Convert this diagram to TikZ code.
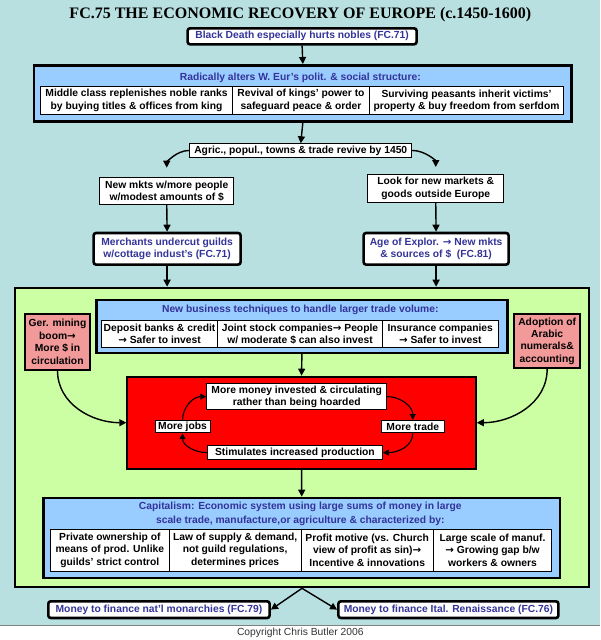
\documentclass[tikz,border=0pt]{standalone}
\usepackage{fontspec}
\setmainfont{Liberation Sans}
\newfontfamily\titlefont{Liberation Serif}
\newfontfamily\arrfont{DejaVu Sans}
\usetikzlibrary{arrows.meta}
\definecolor{bgc}{HTML}{B9E0E1}
\definecolor{grn}{HTML}{CCFFA3}
\definecolor{lblue}{HTML}{99CCFF}
\definecolor{pinkc}{HTML}{F29999}
\definecolor{txtblue}{HTML}{333399}
\definecolor{redc}{HTML}{FF0000}
\newcommand{\myarr}{{\arrfont\bfseries →}}
\begin{document}
\begin{tikzpicture}[x=1pt,y=-1pt,
  every node/.style={font=\bfseries\fontsize{10.3}{12.2}\selectfont, align=center, inner sep=0pt},
  box/.style={draw, line width=0.9pt, fill=white, anchor=north west},
  heavy/.style={draw, line width=2.6pt, fill=white, rounded corners=2.5pt, anchor=north west, text=txtblue},
  panel/.style={draw, line width=2.6pt, anchor=north west},
  conn/.style={line width=1.4pt, -{Triangle[length=7pt,width=7pt]}},
  cyc/.style={line width=1.1pt, -{Triangle[length=6pt,width=6pt]}},
  heading/.style={text=txtblue},
]
\fill[bgc] (0,0) rectangle (600,625);
\draw[gray, line width=0.6pt] (0,625) -- (600,625);
\useasboundingbox (0,0) rectangle (600,640);

\node[font=\titlefont\bfseries\fontsize{16}{18}\selectfont] (title) at (300,14.5) {FC.75 THE ECONOMIC RECOVERY OF EUROPE (c.1450-1600)};

\node[heavy, minimum width=229, minimum height=16] (bd) at (186,27) {Black Death especially hurts nobles (FC.71)};

\node[panel, fill=lblue, minimum width=537.5, minimum height=56] (rad) at (32.5,64) {};
\node[heading] (radt) at (300,78) {Radically alters W. Eur's polit. \& social structure:};
\node[box, minimum width=191.5, minimum height=28] (r1) at (40,86) {Middle class replenishes noble ranks\\by buying titles \& offices from king};
\node[box, minimum width=137.5, minimum height=28] (r2) at (231.5,86) {Revival of kings' power to\\safeguard peace \& order};
\node[box, minimum width=193.5, minimum height=28] (r3) at (369,86) {Surviving peasants inherit victims'\\property \& buy freedom from serfdom};

\node[box, minimum width=222, minimum height=13.4] (ag) at (189,143.3) {Agric., popul., towns \& trade revive by 1450};
\node[box, minimum width=134, minimum height=27.3] (nm) at (99,176.7) {New mkts w/more people\\w/modest amounts of \$};
\node[box, minimum width=136, minimum height=28] (lk) at (367,174) {Look for new markets \&\\goods outside Europe};
\node[heavy, minimum width=147, minimum height=31.6] (me) at (92,231.7) {Merchants undercut guilds\\w/cottage indust's (FC.71)};
\node[heavy, minimum width=145, minimum height=31.6] (ae) at (362,231.7) {Age of Explor. \myarr\ New mkts\\\& sources of \$ \ (FC.81)};

\node[panel, fill=grn, minimum width=574, minimum height=299] (gr) at (13.4,286.7) {};

\node[panel, line width=2.2pt, fill=lblue, minimum width=411, minimum height=53] (nb) at (95,299) {};
\node[heading] (nbt) at (300,310) {New business techniques to handle larger trade volume:};
\node[box, minimum width=116.4, minimum height=27] (n1) at (100.6,320) {Deposit banks \& credit\\\myarr\ Safer to invest};
\node[box, minimum width=164.5, minimum height=27] (n2) at (217,320) {Joint stock companies\myarr\ People\\w/ moderate \$ can also invest};
\node[box, minimum width=116, minimum height=27] (n3) at (381.5,320) {Insurance companies\\\myarr\ Safer to invest};

\node[panel, line width=2pt, fill=pinkc, minimum width=65, minimum height=55.5, font=\bfseries\fontsize{10.3}{12.4}\selectfont] (pl) at (23.7,313) {Ger. mining\\boom\myarr\\More \$ in\\circulation};
\node[panel, line width=2pt, fill=pinkc, minimum width=65.7, minimum height=54, font=\bfseries\fontsize{10.3}{12.4}\selectfont] (pr) at (513,313) {Adoption of\\Arabic\\numerals\&\\accounting};

\node[panel, line width=2pt, fill=redc, minimum width=348.5, minimum height=92] (rd) at (126,375.7) {};
\node[box, minimum width=180, minimum height=25.7] (mm) at (206,383.3) {More money invested \& circulating\\rather than being hoarded};
\node[box, minimum width=55, minimum height=12.3] (jb) at (154.3,420) {More jobs};
\node[box, minimum width=62.6, minimum height=12.3] (tr) at (380.7,420) {More trade};
\node[box, minimum width=175, minimum height=14.3] (st) at (206.7,445) {Stimulates increased production};

\node[panel, line width=2.2pt, fill=lblue, minimum width=516.7, minimum height=80] (cp) at (42,496.7) {};
\node[heading, font=\bfseries\fontsize{10.3}{13.7}\selectfont] (cpt) at (300,514.2) {Capitalism: Economic system using large sums of money in large\\scale trade, manufacture,or agriculture \& characterized by:};
\node[box, minimum width=118.6, minimum height=41.7] (c1) at (49.8,529) {Private ownership of\\means of prod. Unlike\\guilds' strict control};
\node[box, minimum width=132, minimum height=41.7] (c2) at (168.4,529) {Law of supply \& demand,\\not guild regulations,\\determines prices};
\node[box, minimum width=132.1, minimum height=41.7] (c3) at (300.4,529) {Profit motive (vs. Church\\view of profit as sin)\myarr\\Incentive \& innovations};
\node[box, minimum width=118.5, minimum height=41.7] (c4) at (432.5,529) {Large scale of manuf.\\\myarr\ Growing gap b/w\\workers \& owners};

\node[heavy, minimum width=221.3, minimum height=16.7] (ml) at (46.7,600) {Money to finance nat'l monarchies (FC.79)};
\node[heavy, minimum width=220, minimum height=16.7] (mr) at (336.8,600) {Money to finance Ital. Renaissance (FC.76)};

\node[font=\fontsize{10.3}{12}\selectfont, text=black!80] (cr) at (300,633.3) {Copyright Chris Butler 2006};

% connectors
\draw[conn] (bd.south) -- (rad.north);
\draw[conn] (rad.south) -- (ag.north);
\draw[conn, shorten >=9pt] (ag.west) to[out=180, in=90] (nm.north);
\draw[conn, shorten >=7pt] (ag.east) to[out=0, in=90] (lk.north);
\draw[conn] (nm.south) -- (me.north);
\draw[conn] (lk.south) -- (ae.north);
\draw[conn] (me.south) -- (me.south |- gr.north);
\draw[conn] (ae.south) -- (ae.south |- gr.north);
\draw[conn] (nb.south) -- (rd.north);
\draw[conn] (pl.south) to[out=-90, in=180] (rd.west);
\draw[conn] (pr.south) to[out=-90, in=0] (rd.east);
\draw[cyc] (jb.north) to[out=90, in=180] (mm.west);
\draw[cyc] (mm.east) to[out=0, in=90] (tr.north);
\draw[cyc] (tr.south) to[out=-90, in=0] (st.east);
\draw[cyc] (st.west) to[out=180, in=-90] (jb.south);
\draw[conn] (rd.south) -- (cp.north);
\draw[conn] (gr.south) -- (ml.east);
\draw[conn] (gr.south) -- (mr.west);
\end{tikzpicture}
\end{document}
